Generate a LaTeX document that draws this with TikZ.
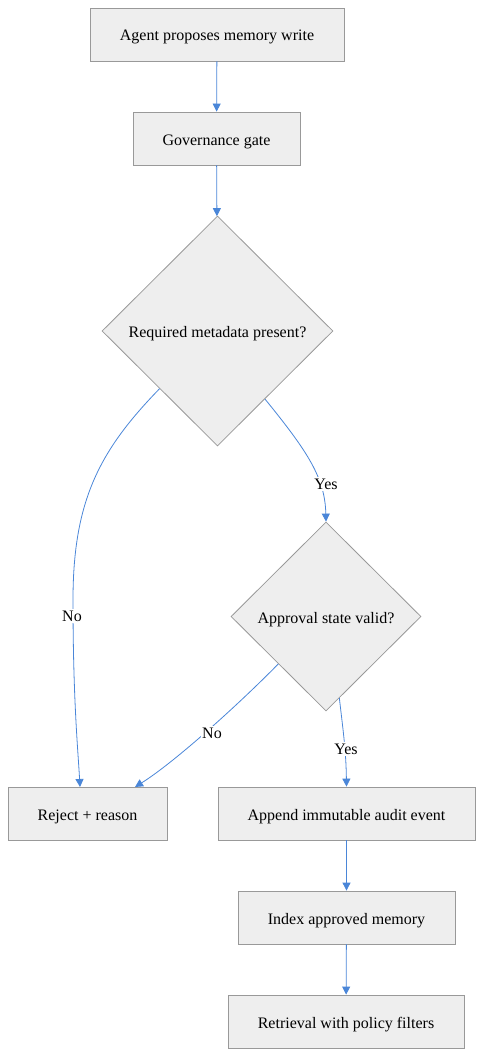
\documentclass[tikz,border=0pt]{standalone}
\usepackage{fontspec}
\setmainfont{Liberation Serif}
\usetikzlibrary{shapes.geometric,arrows.meta,calc}
\definecolor{boxfill}{HTML}{EEEEEE}
\definecolor{boxline}{HTML}{999999}
\definecolor{edgeblue}{RGB}{74,134,216}
\tikzset{
  procbox/.style={draw=boxline, fill=boxfill, line width=0.8pt, rectangle, minimum height=53pt, inner sep=0pt, text height=13pt, text depth=0pt, font=\fontsize{16}{19}\selectfont},
  decbox/.style={draw=boxline, fill=boxfill, line width=0.8pt, diamond, inner sep=0pt, aspect=1, text height=13pt, text depth=0pt, font=\fontsize{16}{19}\selectfont},
  flow/.style={draw=edgeblue, line width=0.8pt, -{Triangle[length=8pt,width=8pt]}},
  lbl/.style={fill=white, inner sep=1.5pt, font=\fontsize{16}{19}\selectfont}
}
\begin{document}
\begin{tikzpicture}[x=1pt,y=-1pt]
\useasboundingbox (0,0) rectangle (483,1057);
\node[procbox, minimum width=254pt] (agent) at (217,34.5) {Agent proposes memory write};
\node[procbox, minimum width=167pt] (gate) at (216.5,138.5) {Governance gate};
\node[decbox, minimum width=231pt, minimum height=230pt] (meta) at (217.5,331) {Required metadata present?};
\node[decbox, minimum width=190pt, minimum height=189pt] (appr) at (326,616.5) {Approval state valid?};
\node[procbox, minimum width=159pt] (reject) at (87.5,813.5) {Reject + reason};
\node[procbox, minimum width=257pt] (audit) at (346.5,813.5) {Append immutable audit event};
\node[procbox, minimum width=217pt] (index) at (346.5,917.5) {Index approved memory};
\node[procbox, minimum width=236pt] (retr) at (346,1021.5) {Retrieval with policy filters};

\coordinate (metaNo) at ($(meta.west)!0.5!(meta.south)$);
\coordinate (metaYes) at ($(meta.east)!0.59!(meta.south)$);
\coordinate (apprNo) at ($(appr.west)!0.5!(appr.south)$);
\coordinate (apprYes) at ($(appr.east)!0.86!(appr.south)$);
\coordinate (rejTop) at (80,787);
\coordinate (rejTop2) at (135,787);

\draw[flow] (agent) -- (gate);
\draw[flow] (gate) -- (meta);
\draw[flow] (metaYes) .. controls (308,452) and (325,478) .. (appr.north);
\draw[flow] (metaNo) .. controls (100,450) and (73,500) .. (73,600) .. controls (73,700) and (78,750) .. (rejTop);
\draw[flow] (apprNo) .. controls (240,703) and (175,762) .. (rejTop2);
\draw[flow] (apprYes) .. controls (343,730) and (346,750) .. (audit.north);
\draw[flow] (audit) -- (index);
\draw[flow] (index) -- (retr);

\node[lbl] (lyes1) at (326,484) {Yes};
\node[lbl] (lno1) at (72,616) {No};
\node[lbl] (lno2) at (212,733) {No};
\node[lbl] (lyes2) at (346,749) {Yes};
\end{tikzpicture}
\end{document}
